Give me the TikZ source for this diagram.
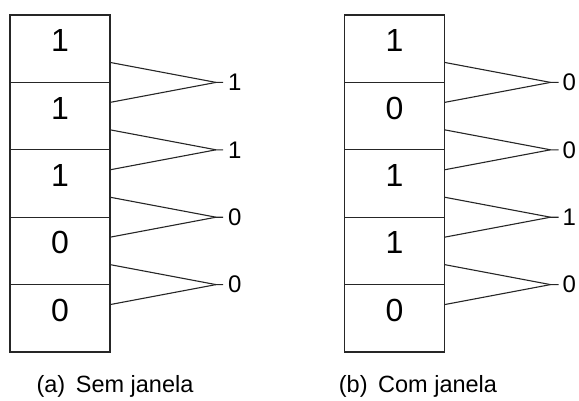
\documentclass[tikz,border=0pt]{standalone}
\usepackage{fontspec}
\setmainfont{Liberation Sans}
\begin{document}
\begin{tikzpicture}[x=1pt,y=-1pt,
  ln/.style={draw=black!85,line width=1.1pt},
  cell/.style={ln,minimum width=100pt,minimum height=67.4pt,inner sep=0pt,outer sep=0pt},
  dig/.style={font=\fontsize{32}{32}\selectfont,inner sep=0pt},
  side/.style={font=\fontsize{24}{24}\selectfont,inner sep=0pt,anchor=west},
  captext/.style={font=\fontsize{23.5}{23.5}\selectfont,inner sep=0pt}]
\useasboundingbox (0,0) rectangle (579,400);
% left column
\foreach \i/\v in {1/1,2/1,3/1,4/0,5/0}{
  \node[cell,anchor=north west] (L\i) at (10,{15+(\i-1)*67.4}) {};
  \node[dig] (Ld\i) at ([yshift=8pt]L\i.center) {\v};
}
% right column
\foreach \i/\v in {1/1,2/0,3/1,4/1,5/0}{
  \node[cell,anchor=north west] (R\i) at (344.5,{15+(\i-1)*67.4}) {};
  \node[dig] (Rd\i) at ([yshift=8pt]R\i.center) {\v};
}
% left windows
\foreach \i/\v in {1/1,2/1,3/0,4/0}{
  \pgfmathtruncatemacro{\j}{\i+1}
  \coordinate (LA\i) at ([xshift=106pt]L\i.south east);
  \coordinate (LS\i) at ([xshift=113pt]L\i.south east);
  \draw[ln] ([yshift=20pt]L\i.south east) -- (LA\i);
  \draw[ln] ([yshift=-20pt]L\j.north east) -- (LA\i) -- (LS\i);
  \node[side] (Lo\i) at ([xshift=5pt]LS\i) {\v};
}
% right windows
\foreach \i/\v in {1/0,2/0,3/1,4/0}{
  \pgfmathtruncatemacro{\j}{\i+1}
  \coordinate (RA\i) at ([xshift=106pt]R\i.south east);
  \coordinate (RS\i) at ([xshift=114pt]R\i.south east);
  \draw[ln] ([yshift=20pt]R\i.south east) -- (RA\i);
  \draw[ln] ([yshift=-20pt]R\j.north east) -- (RA\i) -- (RS\i);
  \node[side] (Ro\i) at ([xshift=4pt]RS\i) {\v};
}
\node[captext] (ca) at (115,386) {(a)\hspace{0.45em}Sem janela};
\node[captext] (cb) at (418,386) {(b)\hspace{0.45em}Com janela};
\end{tikzpicture}
\end{document}
